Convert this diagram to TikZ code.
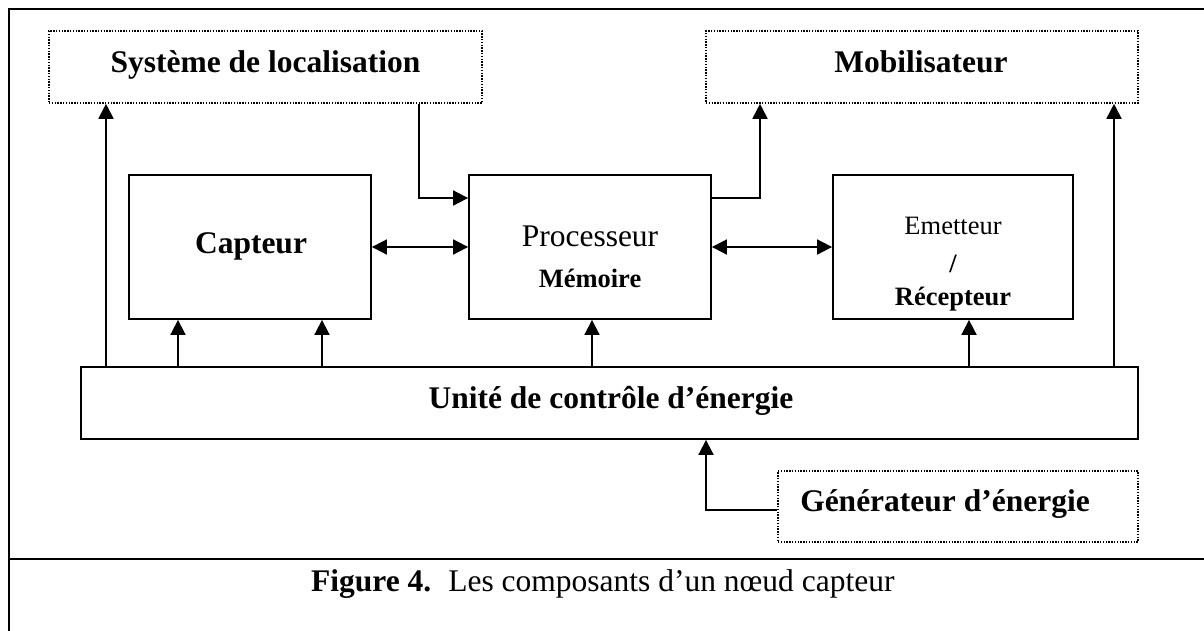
\documentclass[tikz,border=0pt]{standalone}
\usepackage{fontspec}
\setmainfont{Liberation Serif}
\usetikzlibrary{arrows.meta}
\tikzset{
  box/.style={draw, line width=1.8pt, inner sep=0pt},
  dotbox/.style={draw, line width=1.6pt, dash pattern=on 1.4pt off 1.4pt, inner sep=0pt},
  bigb/.style={font=\fontsize{31.5}{36}\selectfont\bfseries, inner sep=0pt, anchor=base},
  bigr/.style={font=\fontsize{31.5}{36}\selectfont, inner sep=0pt, anchor=base},
  smallb/.style={font=\fontsize{26.5}{30}\selectfont\bfseries, inner sep=0pt, anchor=base},
  smallr/.style={font=\fontsize{26.5}{30}\selectfont, inner sep=0pt, anchor=base},
  arr/.style={line width=1.8pt, -{Triangle[length=15pt,width=15pt]}},
  darr/.style={line width=1.8pt, {Triangle[length=15pt,width=15pt]}-{Triangle[length=15pt,width=15pt]}},
  frame/.style={line width=1.8pt}
}
\begin{document}
\begin{tikzpicture}[x=1pt,y=-1pt]
  \useasboundingbox (0,0) rectangle (1204,630);
  \clip (0,0) rectangle (1204,630);
  \fill[white] (0,0) rectangle (1204,630);

  % outer frame and caption separator
  \draw[frame] (1215,9) -- (9,9) -- (9,640);
  \draw[frame] (9,559) -- (1215,559);

  % blocks
  \node[dotbox, minimum width=433pt, minimum height=72pt] (sys) at (265.5,67) {};
  \node[dotbox, minimum width=432pt, minimum height=72pt] (mob) at (922,67) {};
  \node[box, minimum width=242pt, minimum height=144pt] (cap) at (250,247) {};
  \node[box, minimum width=242pt, minimum height=144pt] (proc) at (590,247) {};
  \node[box, minimum width=240pt, minimum height=144pt] (emet) at (953,247) {};
  \node[box, minimum width=1057pt, minimum height=72pt] (unit) at (609.5,403) {};
  \node[dotbox, minimum width=360pt, minimum height=71pt] (gen) at (958,506.5) {};

  % block labels
  \node[bigb] (tsys) at (265.5,72) {Système de localisation};
  \node[bigb] (tmob) at (921,72) {Mobilisateur};
  \node[bigb] (tcap) at (251,253) {Capteur};
  \node[bigr] (tproc) at (590,246) {Processeur};
  \node[smallb] (tmem) at (590,287) {Mémoire};
  \node[smallr] (temi) at (953,234) {Emetteur};
  \node[smallb] (tsl) at (953,272) {/};
  \node[smallb] (trec) at (953,305) {Récepteur};
  \node[bigb] (tunit) at (611,408) {Unité de contrôle d’énergie};
  \node[bigb] (tgen) at (945,511) {Générateur d’énergie};

  % caption
  \node[bigr, anchor=base west] (caption) at (311,591)
    {\textbf{Figure 4.}\hspace{17pt}Les composants d’un nœud capteur};

  % connector guide points
  \coordinate (xa) at (106,0);
  \coordinate (xb) at (178,0);
  \coordinate (xc) at (322,0);
  \coordinate (xd) at (592,0);
  \coordinate (xe) at (969,0);
  \coordinate (xf) at (1114,0);
  \coordinate (ka) at (419,198);
  \coordinate (kb) at (760,198);
  \coordinate (kc) at (706,510);

  % power supply lines
  \draw[arr] (unit.north -| xa) -- (sys.south -| xa);
  \draw[arr] (unit.north -| xb) -- (cap.south -| xb);
  \draw[arr] (unit.north -| xc) -- (cap.south -| xc);
  \draw[arr] (unit.north -| xd) -- (proc.south -| xd);
  \draw[arr] (unit.north -| xe) -- (emet.south -| xe);
  \draw[arr] (unit.north -| xf) -- (mob.south -| xf);
  \draw[arr] (gen.west |- kc) -| (unit.south -| kc);

  % data paths
  \draw[arr] (sys.south -| ka) |- (proc.west |- ka);
  \draw[arr] (proc.east |- kb) -| (mob.south -| kb);
  \draw[darr] (cap.east) -- (proc.west);
  \draw[darr] (proc.east) -- (emet.west);
\end{tikzpicture}
\end{document}
